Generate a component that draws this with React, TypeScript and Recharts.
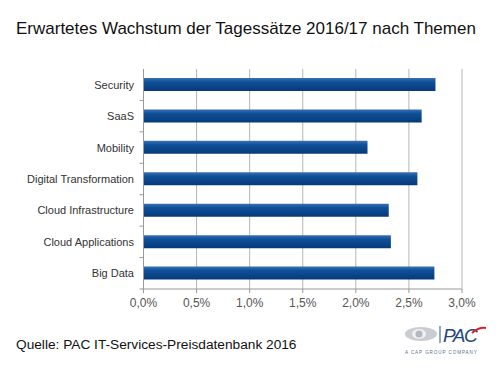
import { BarChart, Bar, XAxis, YAxis, CartesianGrid } from 'recharts'

const themen = [
  'Security',
  'SaaS',
  'Mobility',
  'Digital Transformation',
  'Cloud Infrastructure',
  'Cloud Applications',
  'Big Data',
]
const wachstum = [2.75, 2.62, 2.11, 2.58, 2.31, 2.33, 2.74]
const xTicks = [0, 0.5, 1, 1.5, 2, 2.5, 3]

const data = themen.map((t, i) => ({ thema: t, wert: wachstum[i] }))

const FONT = '"Liberation Sans", Arial, sans-serif'
const PLOT_H = 220
const BAND = PLOT_H / themen.length

function fmtPct(v: number): string {
  return v.toFixed(1).replace('.', ',') + '%'
}

function CatTick(props: any) {
  const { x, y, payload } = props
  return (
    <g>
      <line x1={x + 4} x2={x + 8} y1={y + BAND / 2} y2={y + BAND / 2} stroke="#999" />
      <text
        x={x - 1.5}
        y={y}
        dy={4}
        textAnchor="end"
        fontSize={11}
        fontFamily={FONT}
        fill="#333"
      >
        {payload.value}
      </text>
    </g>
  )
}

function Logo() {
  return (
    <svg width={95} height={36} style={{ position: 'absolute', left: 400, top: 324 }}>
      <ellipse cx={21} cy={10} rx={16} ry={7} fill="#c9cdd2" />
      <ellipse cx={19} cy={10} rx={7} ry={5} fill="#eef0f2" />
      <ellipse cx={19} cy={10} rx={3.5} ry={3.5} fill="#b4b9bf" />
      <line x1={40} x2={40} y1={2} y2={19} stroke="#2a4f8c" strokeWidth={1} />
      <text x={43} y={18} fontSize={19} fontFamily={FONT} fontStyle="italic" fill="#24467f" letterSpacing={-1.5}>
        PAC
      </text>
      <path d="M72 9 Q79 3 86 4" stroke="#d2232a" strokeWidth={2} fill="none" />
      <text x={5} y={30} fontSize={4.6} fontFamily={FONT} fill="#5a6f90" letterSpacing={0.9}>
        A CAP GROUP COMPANY
      </text>
    </svg>
  )
}

export default function App() {
  return (
    <div
      style={{
        position: 'absolute',
        left: 0,
        top: 0,
        width: 500,
        height: 376,
        background: '#fff',
        fontFamily: FONT,
      }}
    >
      <div style={{ position: 'absolute', left: 16, top: 19, fontSize: 17, color: '#111', whiteSpace: 'nowrap' }}>
        Erwartetes Wachstum der Tagessätze 2016/17 nach Themen
      </div>
      <BarChart
        width={500}
        height={376}
        data={data}
        layout="vertical"
        margin={{ top: 69, right: 38, bottom: 57, left: 0 }}
        barCategoryGap={0}
      >
        <defs>
          <linearGradient id="barFill" x1="0" y1="0" x2="0" y2="1">
            <stop offset="0%" stopColor="#3a72b4" />
            <stop offset="30%" stopColor="#0f5099" />
            <stop offset="100%" stopColor="#063a78" />
          </linearGradient>
        </defs>
        <CartesianGrid horizontal={false} stroke="#b5b5b5" />
        <XAxis
          type="number"
          domain={[0, 3]}
          ticks={xTicks}
          tickFormatter={fmtPct}
          height={30}
          stroke="#999"
          tickSize={4}
          tickMargin={5}
          tick={{ fill: '#555', fontSize: 12, fontFamily: FONT }}
          interval={0}
        />
        <YAxis
          type="category"
          dataKey="thema"
          width={143.5}
          stroke="#999"
          tickLine={false}
          tick={<CatTick />}
          interval={0}
        />
        <Bar dataKey="wert" fill="url(#barFill)" barSize={13} isAnimationActive={false} />
      </BarChart>
      <div style={{ position: 'absolute', left: 16, top: 337, fontSize: 13.7, color: '#111', whiteSpace: 'nowrap' }}>
        Quelle: PAC IT-Services-Preisdatenbank 2016
      </div>
      <Logo />
    </div>
  )
}
